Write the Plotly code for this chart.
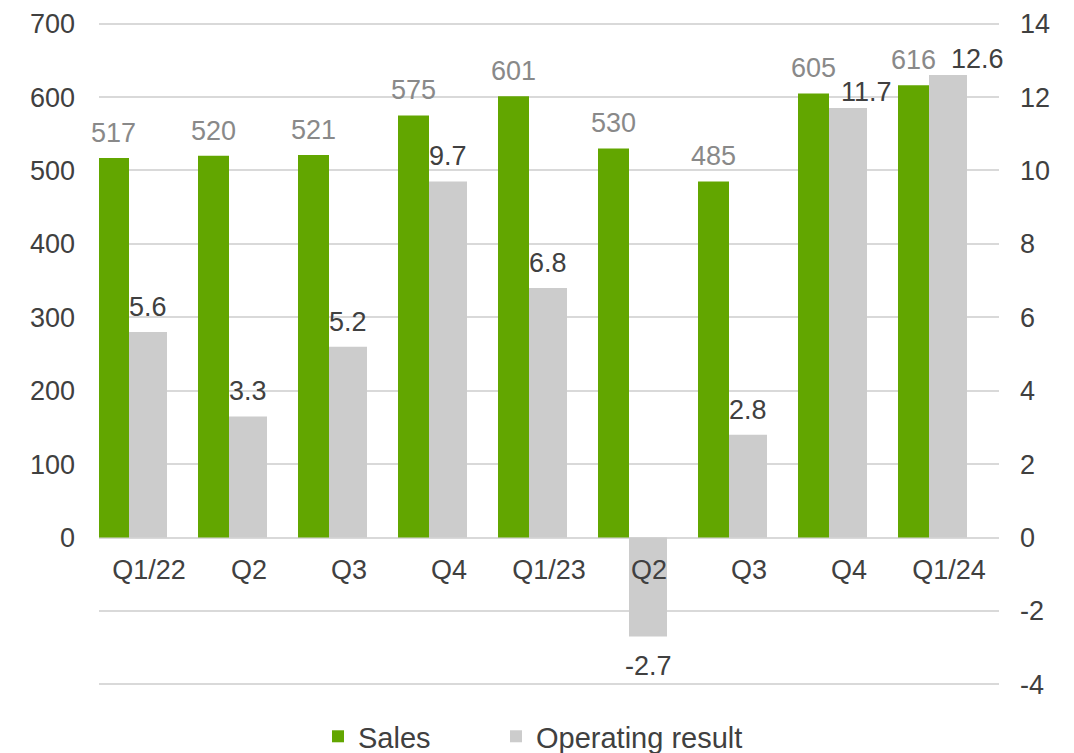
import plotly.graph_objects as go

# Quarterly figures
quarters = ["Q1/22", "Q2", "Q3", "Q4", "Q1/23", "Q2", "Q3", "Q4", "Q1/24"]
sales = [517, 520, 521, 575, 601, 530, 485, 605, 616]
operating_result = [5.6, 3.3, 5.2, 9.7, 6.8, -2.7, 2.8, 11.7, 12.6]
sales_ticks = [0, 100, 200, 300, 400, 500, 600, 700]
result_ticks = [-4, -2, 0, 2, 4, 6, 8, 10, 12, 14]

GREEN = "#62A600"
GREY = "#CCCCCC"
DARK = "#404040"
LABEL_GREY = "#898989"
FONT = "Liberation Sans, Arial, sans-serif"
FS = 27

x = list(range(len(quarters)))

# bar geometry (in category units)
SALES_OFF, SALES_W = -0.51, 0.31
OP_OFF, OP_W = -0.20, 0.38

# axis ranges padded slightly so the outermost gridlines stay visible
PAD = 0.1
y2_range = [-4 - PAD, 14 + PAD]
y_range = [v * 50 for v in y2_range]

fig = go.Figure()
fig.add_trace(go.Bar(
    x=x, y=sales, name="Sales", yaxis="y", legend="legend",
    offset=SALES_OFF, width=SALES_W,
    marker=dict(color=GREEN, line=dict(width=0)),
))
fig.add_trace(go.Bar(
    x=x, y=operating_result, name="Operating result", yaxis="y2", legend="legend2",
    offset=OP_OFF, width=OP_W,
    marker=dict(color=GREY, line=dict(width=0)),
))

annotations = []
for i, v in enumerate(sales):
    annotations.append(dict(
        x=i + SALES_OFF + SALES_W / 2, y=v, xref="x", yref="y",
        text=str(v), showarrow=False, yanchor="bottom", yshift=8,
        font=dict(family=FONT, size=FS, color=LABEL_GREY),
    ))

# labels that sit beside the tallest bars near the right edge
op_nudge = {7: (18, -1), 8: (29, -1)}
for i, v in enumerate(operating_result):
    dx, dy = op_nudge.get(i, (0, 8))
    if v >= 0:
        ya, ys = "bottom", dy
    else:
        ya, ys = "top", -12
    annotations.append(dict(
        x=i + OP_OFF + OP_W / 2, y=v, xref="x", yref="y2",
        text=f"{v:.1f}", showarrow=False, yanchor=ya, yshift=ys, xshift=dx,
        font=dict(family=FONT, size=FS, color=DARK),
    ))

legend_style = dict(
    orientation="h", xref="container", xanchor="left",
    yref="container", y=0.022, yanchor="middle",
    font=dict(family=FONT, size=29, color=DARK),
    bgcolor="rgba(0,0,0,0)",
)

fig.update_layout(
    width=1074, height=753,
    margin=dict(l=99, r=75, t=20.3, b=65.3, autoexpand=False),
    paper_bgcolor="white", plot_bgcolor="white",
    barmode="overlay",
    font=dict(family=FONT, size=FS, color=DARK),
    showlegend=True,
    legend=dict(legend_style, x=(318 / 1074)),
    legend2=dict(legend_style, x=(496 / 1074)),
    xaxis=dict(
        range=[-0.5, len(quarters) - 0.5],
        tickvals=x, ticktext=quarters,
        anchor="free", position=(4.1 / 18.2),
        showgrid=False, zeroline=False, showline=False,
        ticks="outside", ticklen=8, tickcolor="rgba(0,0,0,0)",
        tickfont=dict(family=FONT, size=FS, color=DARK),
    ),
    yaxis=dict(
        range=y_range, tickvals=sales_ticks,
        showgrid=False, zeroline=False, showline=False,
        ticklabelstandoff=23,
        tickfont=dict(family=FONT, size=FS, color=DARK),
    ),
    yaxis2=dict(
        range=y2_range, tickvals=result_ticks,
        ticktext=[str(t) for t in result_ticks],
        overlaying="y", side="right",
        showgrid=True, gridcolor="#D9D9D9", gridwidth=2,
        zeroline=False, showline=False,
        ticklabelstandoff=20,
        tickfont=dict(family=FONT, size=FS, color=DARK),
    ),
    annotations=annotations,
)

fig.write_html("out.html")
